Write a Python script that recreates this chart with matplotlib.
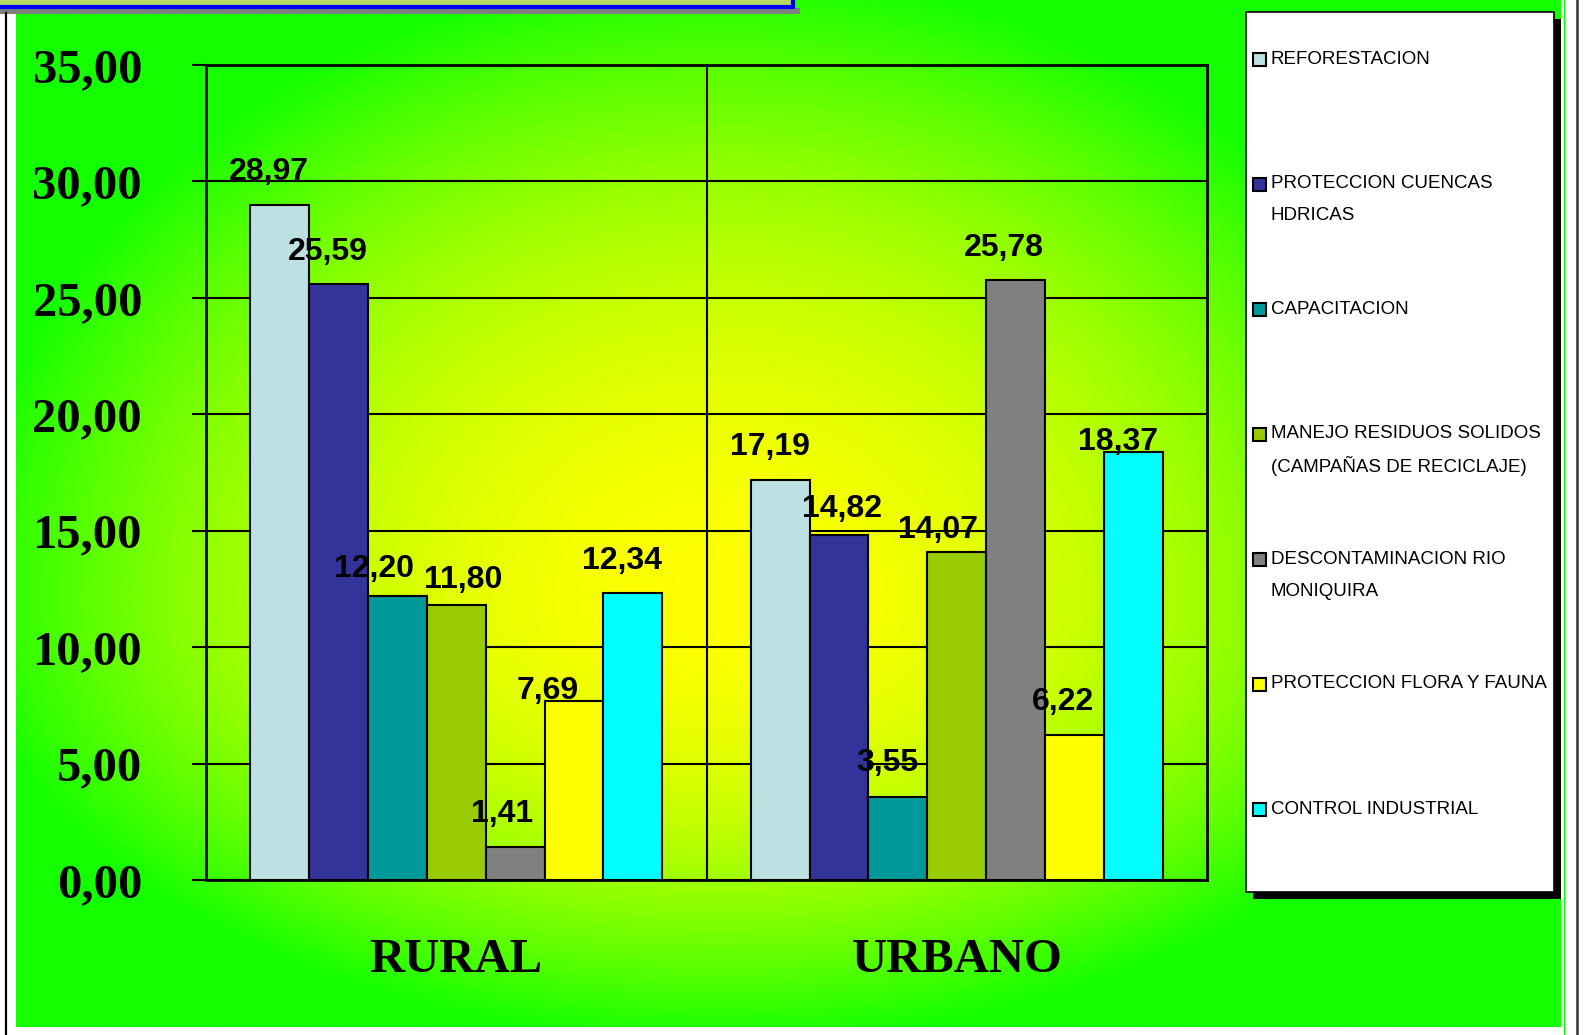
import numpy as np
import matplotlib
matplotlib.use('Agg')
import matplotlib.pyplot as plt
from matplotlib.patches import Rectangle
from matplotlib.colors import to_rgb

# data
categories = ['RURAL', 'URBANO']
series = ['REFORESTACION', 'PROTECCION CUENCAS\nHDRICAS', 'CAPACITACION',
          'MANEJO RESIDUOS SOLIDOS\n(CAMPAÑAS DE RECICLAJE)',
          'DESCONTAMINACION RIO\nMONIQUIRA', 'PROTECCION FLORA Y FAUNA',
          'CONTROL INDUSTRIAL']
rural = [28.97, 25.59, 12.20, 11.80, 1.41, 7.69, 12.34]
urbano = [17.19, 14.82, 3.55, 14.07, 25.78, 6.22, 18.37]
yticks = [0, 5, 10, 15, 20, 25, 30, 35]
ytick_labels = ['0,00', '5,00', '10,00', '15,00', '20,00', '25,00', '30,00', '35,00']
colors = ['#BDE0E3', '#333399', '#009999', '#99CC00', '#808080', '#FFFF00', '#00FFFF']

# label nudges (pixels) as placed in the original slide
nudge_rural = [(-11, 25), (-11, 24), (-23, 19), (7, 17), (-13, 25), (-26, 2), (-11, 24)]
nudge_urbano = [(-10, 25), (3, 18), (-11, 26), (-19, 14), (-12, 24), (-12, 25), (-15, 2)]

W, H = 1587, 1035
fig = plt.figure(figsize=(W / 100, H / 100), dpi=100)
fig.patch.set_facecolor('white')

# background layer in pixel coords
bg = fig.add_axes([0, 0, 1, 1], zorder=0)
bg.set_xlim(0, W)
bg.set_ylim(H, 0)
bg.axis('off')

# radial yellow -> green gradient
x0, x1, y0, y1 = 16, 1561, 0, 1027
xx, yy = np.meshgrid(np.linspace(x0, x1, 600), np.linspace(y0, y1, 400))
cx, cy = 720, 600
rx = 760
ry = np.where(yy < cy, 630, 440)
r2 = ((xx - cx) / rx) ** 2 + ((yy - cy) / ry) ** 2
t = np.clip(1 - r2, 0, 1)[..., None]
yellow = np.array(to_rgb('#FFFF00'))
green = np.array(to_rgb('#14FF00'))
img = green + (yellow - green) * t
bg.imshow(img, extent=(x0, x1, y1, y0), aspect='auto', interpolation='bilinear')

# frame lines
bg.plot([6, 6], [13, H], color='black', lw=1.6)
bg.plot([1564, 1564], [0, H], color='#00FF00', lw=1)
bg.plot([1577, 1577], [0, H], color='#333333', lw=1.8)

# box fragment at the top left
bg.add_patch(Rectangle((0, 8), 800, 6, facecolor='#808080', edgecolor='none'))
bg.add_patch(Rectangle((-5, -10), 798, 17, facecolor='#B5D865', edgecolor='#0000FF', lw=3))

# legend box with shadow
bg.add_patch(Rectangle((1253, 19), 308, 880, facecolor='black', edgecolor='none'))
bg.add_patch(Rectangle((1246, 12), 308, 880, facecolor='white', edgecolor='black', lw=1.2))
sans = ['Liberation Sans', 'DejaVu Sans']
for k, (lab, c) in enumerate(zip(series, colors)):
    yc = 59 + 125 * k
    bg.add_patch(Rectangle((1253, yc - 6.5), 13, 13, facecolor=c, edgecolor='black', lw=1.5))
    for j, line in enumerate(lab.split('\n')):
        bg.text(1271, yc + 32 * j, line, ha='left', va='center', fontsize=13.5,
                family=sans, color='black')

# main chart
ax = fig.add_axes([206 / W, (H - 880) / H, 1001 / W, 815 / H], zorder=1)
ax.set_facecolor('none')
ax.set_xlim(-0.5, 1.5)
ax.set_ylim(0, 35)

w = 412 / 500.5 / 7
for j in range(7):
    vals = [rural[j], urbano[j]]
    nudges = [nudge_rural[j], nudge_urbano[j]]
    xs = np.arange(len(categories)) + (j - 3) * w
    ax.bar(xs, vals, width=w, color=colors[j], edgecolor='black', lw=1.5, zorder=3)
    for x, v, off in zip(xs, vals, nudges):
        ax.annotate(f'{v:.2f}'.replace('.', ','), xy=(x, v), xytext=off,
                    textcoords='offset pixels', ha='center', va='baseline',
                    fontsize=23, fontweight='bold', family=sans, zorder=5)

ax.axvline(0.5, color='black', lw=1.5, zorder=2)
ax.set_yticks(yticks)
ax.set_yticklabels(ytick_labels, family='Liberation Serif', fontweight='bold', fontsize=35)
ax.yaxis.grid(True, color='black', lw=1.5, zorder=2)
ax.set_axisbelow(True)
ax.tick_params(axis='y', length=10, width=1.5, pad=36)
ax.set_xticks(range(len(categories)))
ax.set_xticklabels(categories, family='Liberation Serif', fontweight='bold', fontsize=35)
ax.tick_params(axis='x', length=0, pad=42)
for s in ax.spines.values():
    s.set_color('black')
    s.set_linewidth(2)

fig.savefig('out.png', dpi=100)
